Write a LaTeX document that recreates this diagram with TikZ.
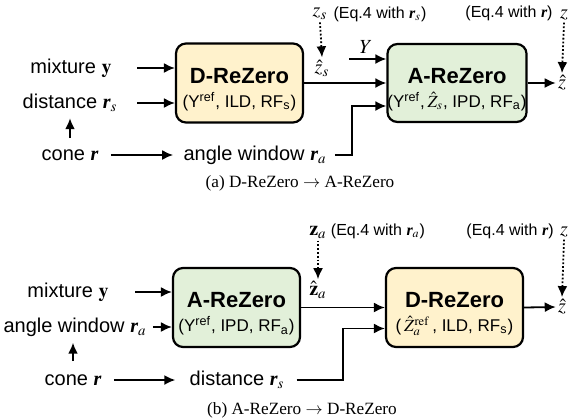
\documentclass[tikz,border=0pt]{standalone}
\usepackage{amsmath}
\usepackage{mathptmx}
\usepackage{fontspec}
\setmainfont{Liberation Serif}
\setsansfont{Liberation Sans}
\usepackage{xcolor}
\usepackage{tikz}
\usetikzlibrary{arrows.meta,calc}

\definecolor{dcream}{HTML}{FFF2CC}
\definecolor{agreen}{HTML}{E2F0D9}

\newcommand{\rvec}{\mbox{\normalfont\rmfamily\bfseries\itshape r}}
\newcommand{\yvec}{\mathbf{y}}
\newcommand{\zvec}{\mathbf{z}}

\begin{document}
\begin{tikzpicture}[x=0.5pt, y=-0.5pt,
    lbl/.style={font=\sffamily\fontsize{10}{12}\selectfont, inner sep=1pt},
    eqlbl/.style={font=\sffamily\fontsize{8}{10}\selectfont, inner sep=1pt},
    block/.style={draw, line width=1.1pt, rounded corners=5pt, align=center, inner sep=0pt,
        font=\sffamily\fontsize{8.5}{10}\selectfont},
    arr/.style={line width=0.9pt, -{Latex[length=5.5pt,width=5pt]}},
    dotarr/.style={line width=0.9pt, densely dotted, -{Latex[length=5.5pt,width=5pt]}},
    capt/.style={font=\rmfamily\fontsize{8.6}{10}\selectfont}]
        \useasboundingbox (0,0) rectangle (572,418);

        % (a) D-ReZero -> A-ReZero
        \node[block, fill=dcream, minimum width=63.5pt, minimum height=39.5pt] (dA) at (239.5,83)
            {\rule{0pt}{14pt}{\bfseries\fontsize{11}{13}\selectfont D-ReZero}\\[2pt](Y\textsuperscript{ref}, ILD, RF\textsubscript{s})};
        \node[block, fill=agreen, minimum width=69pt, minimum height=39pt] (aA) at (457,83)
            {\rule{0pt}{14pt}{\bfseries\fontsize{11}{13}\selectfont A-ReZero}\\[2pt](Y\textsuperscript{ref},\,$\hat{Z}_s$, IPD, RF\textsubscript{a})};

        \node[lbl] (mixA) at (71,68) {mixture $\yvec$};
        \node[lbl] (distA) at (70,103) {distance $\rvec_s$};
        \node[lbl] (coneA) at (70,155) {cone $\rvec$};
        \node[lbl] (angA) at (255,155) {angle window $\rvec_a$};
        \coordinate (inA) at (137,0);
        \coordinate (turnA) at (352,155);
        \coordinate (yInA) at (349,59);

        \draw[arr] (mixA.east -| inA) -- (mixA.east -| dA.west);
        \draw[arr] (distA.east -| inA) -- (distA.east -| dA.west);
        \draw[arr, shorten <=4.5pt, shorten >=2pt] (coneA.north) -- (coneA.north |- distA.south);
        \draw[arr, shorten <=5pt, shorten >=4pt] (coneA.east) -- (angA.west);
        \draw[arr, shorten <=3pt] (angA.east) -- (turnA) |- ($(aA.west)+(0,23)$);
        \draw[arr] (dA.east) -- (aA.west);
        \draw[arr] (yInA) -- (yInA -| aA.west);
        \node[lbl] (yA) at (366,47) {$Y$};

        \node[lbl] (zhatA) at (322,68) {$\hat{z}_s$};
        \node[lbl] (zsA) at (320,14) {$z_s$};
        \node[eqlbl] (eqA1) at (380,14) {(Eq.4 with $\rvec_s$)};
        \draw[dotarr] (zsA.south) -- (zhatA.north);

        \node[lbl] (zoutA) at (562,83) {$\hat{z}$};
        \node[lbl] (ztA) at (564,15) {$z$};
        \node[eqlbl] (eqA2) at (509,13) {(Eq.4 with $\rvec$)};
        \draw[dotarr] (ztA.south) -- (zoutA.north);
        \draw[arr] (aA.east) -- (zoutA.west);

        \node[capt] (capA) at (300,183) {(a) D-ReZero $\rightarrow$ A-ReZero};

        % (b) A-ReZero -> D-ReZero
        \node[block, fill=agreen, minimum width=63.5pt, minimum height=39.5pt] (aB) at (236.5,307.5)
            {\rule{0pt}{14pt}{\bfseries\fontsize{11}{13}\selectfont A-ReZero}\\[2pt](Y\textsuperscript{ref}, IPD, RF\textsubscript{a})};
        \node[block, fill=dcream, minimum width=68.5pt, minimum height=39.5pt] (dB) at (454.5,307.5)
            {\rule{0pt}{14pt}{\bfseries\fontsize{11}{13}\selectfont D-ReZero}\\[2pt](\,$\hat{Z}_a^{\mathrm{ref}}$\,, ILD, RF\textsubscript{s})};

        \node[lbl] (mixB) at (68,292) {mixture $\yvec$};
        \node[lbl] (angB) at (75,327) {angle window $\rvec_a$};
        \node[lbl] (coneB) at (73,380) {cone $\rvec$};
        \node[lbl] (distB) at (237,380) {distance $\rvec_s$};
        \coordinate (inB) at (135,0);
        \coordinate (turnB) at (343,380);

        \draw[arr] (mixB.east -| inB) -- (mixB.east -| aB.west);
        \draw[arr, shorten <=2pt] (angB.east) -- (angB.east -| aB.west);
        \draw[arr, shorten <=5.5pt, shorten >=2pt] (coneB.north) -- (coneB.north |- angB.south);
        \draw[arr, shorten <=5pt, shorten >=6pt] (coneB.east) -- (distB.west);
        \draw[arr, shorten <=5pt] (distB.east) -- (turnB) |- ($(dB.west)+(0,21)$);
        \draw[arr] (aB.east) -- (dB.west);

        \node[lbl] (zhatB) at (318,290) {$\hat{\zvec}_a$};
        \node[lbl] (zaB) at (318,232) {$\zvec_a$};
        \node[eqlbl] (eqB1) at (378,231) {(Eq.4 with $\rvec_a$)};
        \draw[dotarr] (zaB.south) -- (zhatB.north);

        \node[lbl] (zoutB) at (562,307) {$\hat{z}$};
        \node[lbl] (ztB) at (564,232) {$z$};
        \node[eqlbl] (eqB2) at (510,231) {(Eq.4 with $\rvec$)};
        \draw[dotarr] (ztB.south) -- (zoutB.north);
        \draw[arr] (dB.east) -- (zoutB.west);

        \node[capt] (capB) at (302,410) {(b) A-ReZero $\rightarrow$ D-ReZero};
    \end{tikzpicture}
\end{document}
